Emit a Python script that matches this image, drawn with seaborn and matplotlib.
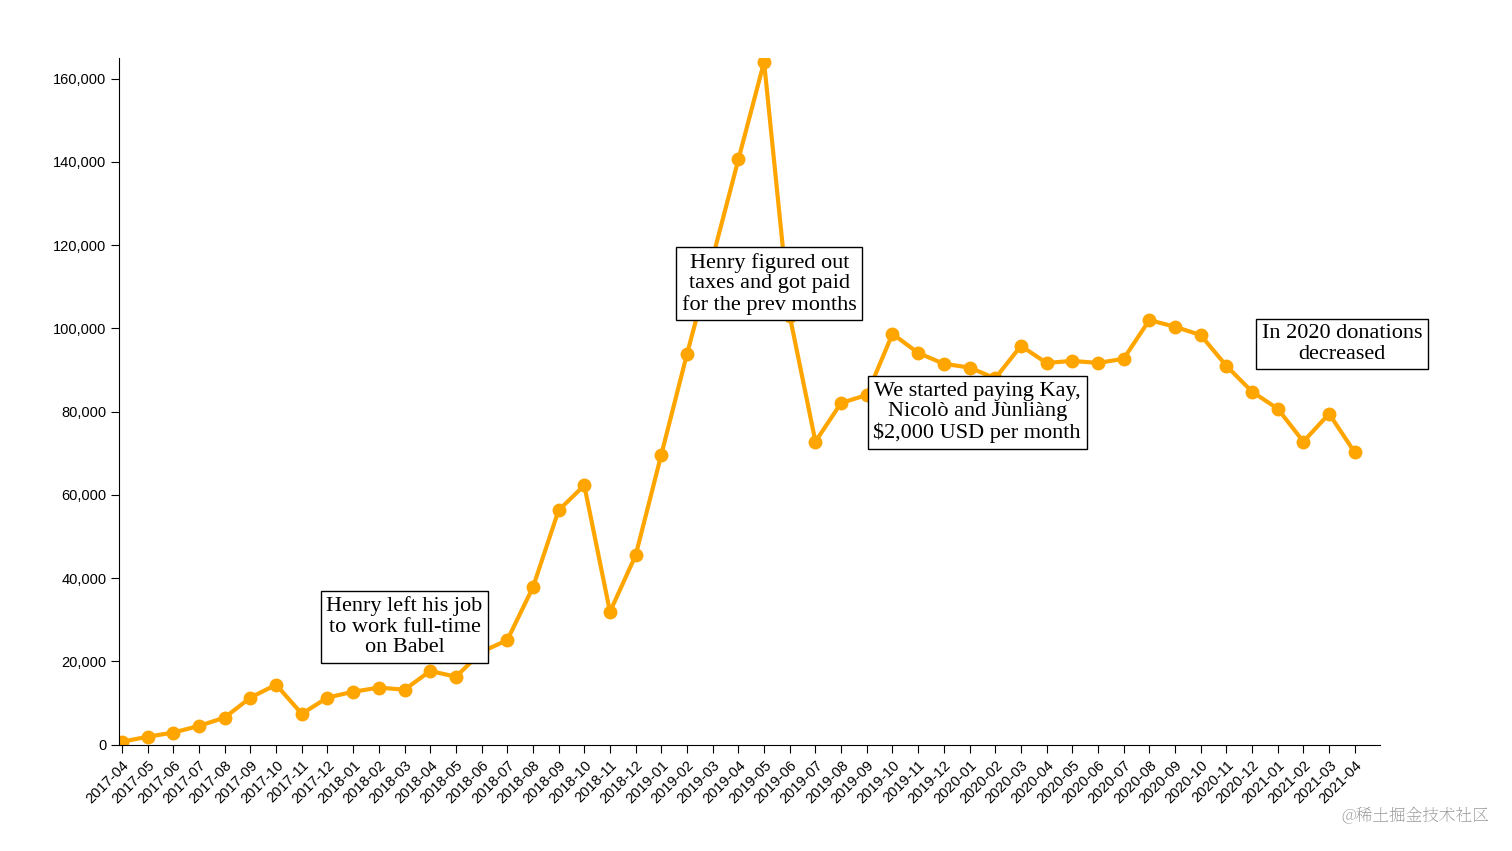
import matplotlib
matplotlib.use("Agg")
import matplotlib.pyplot as plt
from matplotlib import font_manager as fm
import seaborn as sns
import pandas as pd

months = ["2017-04","2017-05","2017-06","2017-07","2017-08","2017-09","2017-10","2017-11","2017-12",
          "2018-01","2018-02","2018-03","2018-04","2018-05","2018-06","2018-07","2018-08","2018-09",
          "2018-10","2018-11","2018-12","2019-01","2019-02","2019-03","2019-04","2019-05","2019-06",
          "2019-07","2019-08","2019-09","2019-10","2019-11","2019-12","2020-01","2020-02","2020-03",
          "2020-04","2020-05","2020-06","2020-07","2020-08","2020-09","2020-10","2020-11","2020-12",
          "2021-01","2021-02","2021-03","2021-04"]
donations = [700,1900,2900,4500,6500,11300,14400,7400,11300,12700,13700,13200,17700,16300,22300,25100,
             37800,56300,62300,31900,45500,69700,93900,117000,140600,164000,103000,72800,82100,84000,
             98700,94100,91500,90600,88000,95800,91700,92200,91700,92700,102000,100400,98400,91000,
             84800,80700,72800,79500,70200]
notes = ["Henry left his job\nto work full-time\non Babel",
         "Henry figured out\ntaxes and got paid\nfor the prev months",
         "We started paying Kay,\nNicolò and Jùnliàng\n$2,000 USD per month",
         "In 2020 donations\ndecreased"]
note_x = [11.0, 25.2, 33.3, 47.5]
note_y = [28300, 110700, 79800, 96300]

df = pd.DataFrame({"i": range(len(months)), "v": donations})

fig = plt.figure(figsize=(15.12, 8.51), dpi=100)
ax = fig.add_axes([0.079, 0.125, 0.834, 0.807])
sns.lineplot(data=df, x="i", y="v", ax=ax, color="#FFA500", linewidth=3,
             marker="o", markersize=10, markeredgewidth=0)
ax.set_xlim(-0.1, 49)
ax.set_ylim(0, 165000)
ax.set_xticks(range(len(months)))
ax.set_xticklabels(months, rotation=45, ha="right", rotation_mode="anchor", fontsize=10.5,
                   family="Liberation Sans")
ax.set_yticks(range(0, 160001, 20000))
ax.set_yticklabels([f"{v:,}" for v in range(0, 160001, 20000)], fontsize=10.5,
                   family="Liberation Sans")
for s in ["top", "right"]:
    ax.spines[s].set_visible(False)
ax.set_xlabel("")
ax.set_ylabel("")
ax.tick_params(length=6)
for t, x, y in zip(notes, note_x, note_y):
    ax.text(x, y, t, ha="center", va="center", fontsize=16, family="Liberation Serif",
            linespacing=1.1,
            bbox=dict(boxstyle="square,pad=0.25", fc="white", ec="black", lw=1), zorder=5)

cjk = None
for f in fm.fontManager.ttflist:
    if "CJK" in f.name and ("SC" in f.name or cjk is None):
        cjk = f.fname
        if "SC" in f.name:
            break
props = fm.FontProperties(fname=cjk, size=12) if cjk else fm.FontProperties(family="Noto Sans CJK SC", size=12)
fig.text(0.985, 0.03, "@稀土掘金技术社区", ha="right", va="bottom",
         color="#999999", fontproperties=props)
fig.savefig("out.png", dpi=100)
